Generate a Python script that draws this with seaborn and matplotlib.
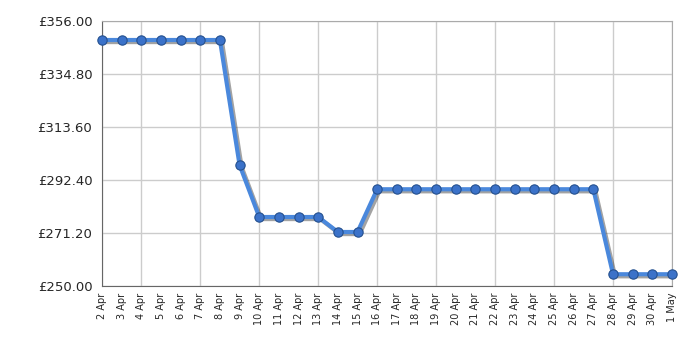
import matplotlib
matplotlib.use("Agg")
import matplotlib.pyplot as plt
import matplotlib.patheffects as pe
import seaborn as sns

dates = ["2 Apr", "3 Apr", "4 Apr", "5 Apr", "6 Apr", "7 Apr", "8 Apr", "9 Apr",
         "10 Apr", "11 Apr", "12 Apr", "13 Apr", "14 Apr", "15 Apr", "16 Apr",
         "17 Apr", "18 Apr", "19 Apr", "20 Apr", "21 Apr", "22 Apr", "23 Apr",
         "24 Apr", "25 Apr", "26 Apr", "27 Apr", "28 Apr", "29 Apr", "30 Apr", "1 May"]
prices = [348.4, 348.4, 348.4, 348.4, 348.4, 348.4, 348.4, 298.4,
          277.6, 277.6, 277.6, 277.6, 271.6, 271.6, 288.7,
          288.7, 288.7, 288.7, 288.7, 288.7, 288.7, 288.7,
          288.7, 288.7, 288.7, 288.7, 254.7, 254.7, 254.7, 254.7]
y_ticks = [250.00, 271.20, 292.40, 313.60, 334.80, 356.00]
grid_days = ["4 Apr", "7 Apr", "10 Apr", "13 Apr", "16 Apr", "19 Apr",
             "22 Apr", "25 Apr", "28 Apr"]

sns.set_style("white")
plt.rcParams['font.family'] = ['DejaVu Sans']

fig = plt.figure(figsize=(7, 3.5), dpi=100)
ax = fig.add_axes([102/700, 1-286/350, 570/700, 265/350])

xs = list(range(len(dates)))
sns.lineplot(x=xs, y=prices, ax=ax, color="#4a88dc", linewidth=3,
             path_effects=[pe.SimpleLineShadow(offset=(1.5, -1.5), shadow_color="#333333", alpha=0.45),
                           pe.Normal()], zorder=5, clip_on=False)
sns.scatterplot(x=xs, y=prices, ax=ax, color="#3b72c9", s=45,
                edgecolor="#24508f", linewidth=0.8, zorder=6, clip_on=False,
                legend=False)

ax.set_xlim(0, len(dates) - 1)
ax.set_ylim(250, 356)
ax.set_yticks(y_ticks)
ax.set_yticklabels([f"£{v:.2f}" for v in y_ticks], fontsize=9.5)
ax.set_xticks(xs)
ax.set_xticklabels(dates, rotation=90, fontsize=7)
ax.tick_params(axis="x", which="major", length=0, pad=5)
ax.tick_params(axis="y", which="major", length=5, width=1, color="#555555", pad=2)
ax.xaxis.remove_overlapping_locs = False
gx = [dates.index(d) for d in grid_days] + [0, len(dates) - 1]
ax.set_xticks(gx, minor=True)
ax.tick_params(axis="x", which="minor", length=4, width=1, color="#222222")
ax.grid(True, axis="y", color="#cccccc", linewidth=1)
ax.grid(True, axis="x", which="minor", color="#cccccc", linewidth=1)
ax.set_axisbelow(True)
for s in ax.spines.values():
    s.set_color("#aaaaaa")
ax.spines["left"].set_color("#666666")
ax.spines["bottom"].set_color("#666666")
ax.set_xlabel("")
ax.set_ylabel("")

fig.savefig("out.png", dpi=100)
